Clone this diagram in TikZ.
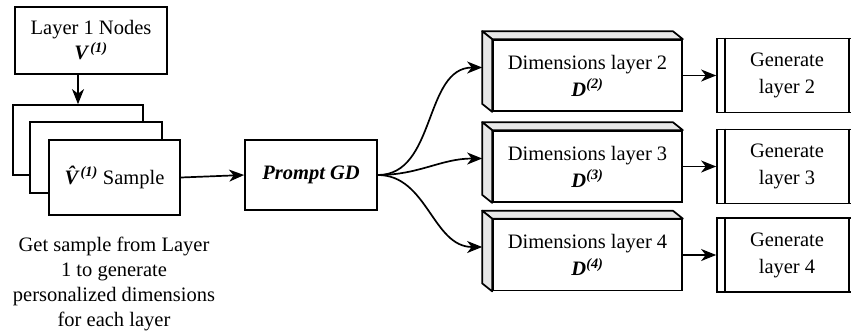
\documentclass[tikz,border=0pt]{standalone}
\usepackage{fontspec}
\setmainfont{Liberation Serif}
\usetikzlibrary{arrows.meta}

\begin{document}
\begin{tikzpicture}[->,>={Stealth[length=15pt,width=12pt,inset=4.5pt]},x=1pt,y=-1pt,
                    line width=1.7pt,
                    every node/.style={font=\fontsize{20.5}{25}\selectfont},
                    box/.style={draw,fill=white,rectangle,inner sep=0pt,align=center},
                    face/.style={draw,fill=black!9,line join=round}]
  \useasboundingbox (0,0) rectangle (851,335);

  \node[box, minimum width=152, minimum height=67] (layer1) at (91,40.5)
       {Layer 1 Nodes\\ {\bfseries\itshape V\textsuperscript{\,(1)}}};

  % stacked samples
  \node[box, minimum width=130, minimum height=70] (back)   at (78,140) {};
  \node[box, minimum width=132, minimum height=71] (middle) at (96,157.5) {};
  \node[box, minimum width=131, minimum height=75] (sample) at (114.5,177.5)
       {{\bfseries\itshape \^{V}\textsuperscript{\,(1)}} Sample};

  \node[align=center] (note) at (114,284)
       {Get sample from Layer\\ 1 to generate\\ personalized dimensions\\ for each layer};

  \node[box, minimum width=132, minimum height=70] (prompt) at (311,175)
       {\bfseries\itshape Prompt GD};

  \draw (back.north |- layer1.south) -- (back.north);
  \draw (sample.east) -- (prompt.west);

  \foreach \i/\y in {2/75.5, 3/166.5, 4/255}{
    \node[box, minimum width=189, minimum height=71] (dim\i) at (587.5,\y)
         {Dimensions layer \i\\[2pt] {\bfseries\itshape D\textsuperscript{(\i)}}};
    \filldraw[face,-] (dim\i.north west) -- ++(-10,-8)
         -- ([shift={(-10,-8)}]dim\i.north east) -- (dim\i.north east) -- cycle;
    \filldraw[face,-] (dim\i.north west) -- ++(-10,-8)
         -- ([shift={(-10,-8)}]dim\i.south west) -- (dim\i.south west) -- cycle;
    \coordinate (in\i) at ([shift={(-10,-8)}]dim\i.west);

    \node[box, minimum width=140, minimum height=74] (gen\i) at (787,\y)
         {Generate\\[2pt] layer \i};
    \draw[-] ([xshift=9pt]gen\i.north west) -- ([xshift=9pt]gen\i.south west);
    \draw[-] ([xshift=-9pt]gen\i.north east) -- ([xshift=-9pt]gen\i.south east);

    \draw (prompt.east) to[out=0,in=180] (in\i);
    \draw (dim\i.east) -- (dim\i.east -| gen\i.west);
  }
\end{tikzpicture}
\end{document}
